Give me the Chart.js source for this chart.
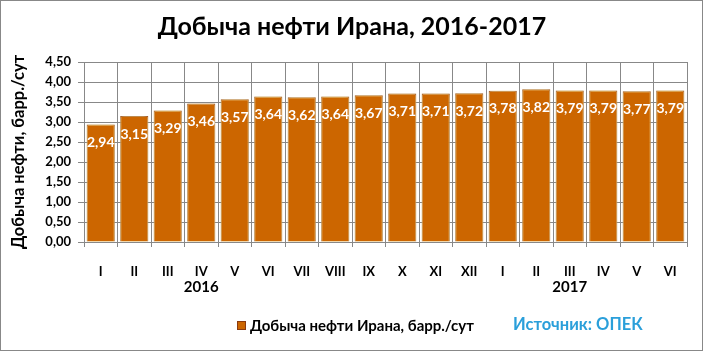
<!DOCTYPE html>
<html><head><meta charset="utf-8">
<script src="https://cdn.jsdelivr.net/npm/chart.js@4.4.1/dist/chart.umd.min.js"></script>
<style>html,body{margin:0;padding:0;background:#fff}#wrap{width:703px;height:351px;position:relative}</style>
</head><body><div id="wrap"><canvas id="c" width="703" height="351"></canvas></div>
<script>
const months = ["I","II","III","IV","V","VI","VII","VIII","IX","X","XI","XII","I","II","III","IV","V","VI"];
const production = [2.94,3.15,3.29,3.46,3.57,3.64,3.62,3.64,3.67,3.71,3.71,3.72,3.78,3.82,3.79,3.79,3.77,3.79];
const years = ["2016","2017"];
const yearAt = [3,14];
const titleText = "Добыча нефти Ирана, 2016-2017";
const seriesName = "Добыча нефти Ирана, барр./сут";
const yTitle = "Добыча нефти, барр./сут";
const sourceText = "Источник: ОПЕК";
const FONT = "Lato, 'Open Sans', sans-serif";
const fmt = v => v.toFixed(2).replace('.', ',');

const deco = {
  id: 'deco',
  beforeDatasetsDraw(chart){
    const ctx = chart.ctx; ctx.save();
    ctx.shadowColor = 'rgba(255,255,170,1)'; ctx.shadowBlur = 4;
  },
  afterDatasetsDraw(chart){
    const ctx = chart.ctx; ctx.restore();
    ctx.save();
    const meta = chart.getDatasetMeta(0);
    ctx.fillStyle = '#fff'; ctx.font = 'bold 14px ' + FONT;
    ctx.textAlign = 'center'; ctx.textBaseline = 'middle';
    meta.data.forEach((bar, i) => {
      ctx.fillText(fmt(production[i]), bar.x, bar.y + 18);
    });
    ctx.restore();
  },
  afterDraw(chart){
    const ctx = chart.ctx; ctx.save();
    const xs = chart.scales.x;
    ctx.fillStyle = '#000'; ctx.font = 'bold 25px ' + FONT;
    ctx.textAlign = 'center'; ctx.textBaseline = 'middle';
    ctx.fillText(titleText, 352, 27);
    ctx.font = 'bold 15px ' + FONT;
    years.forEach((y, i) => ctx.fillText(y, xs.getPixelForValue(yearAt[i]), 287));
    ctx.fillStyle = '#CC6600'; ctx.fillRect(237, 321, 9, 9);
    ctx.strokeStyle = '#8a3a10'; ctx.lineWidth = 1; ctx.strokeRect(237.5, 321.5, 8, 8);
    ctx.fillStyle = '#000'; ctx.textAlign = 'left'; ctx.font = 'bold 15px ' + FONT;
    ctx.fillText(seriesName, 250, 326);
    ctx.fillStyle = '#2A9FDA'; ctx.font = 'bold 16.5px ' + FONT;
    ctx.fillText(sourceText, 513, 325);
    ctx.strokeStyle = '#888'; ctx.lineWidth = 1;
    ctx.strokeRect(0.5, 0.5, 702, 350);
    ctx.restore();
  }
};

new Chart(document.getElementById('c'), {
  type: 'bar',
  data: { labels: months, datasets: [{
    label: seriesName, data: production,
    backgroundColor: '#CC6600', borderColor: '#8e3a12', borderWidth: 1,
    barPercentage: 0.84, categoryPercentage: 1.0
  }]},
  options: {
    responsive: false, animation: false,
    layout: { padding: { top: 62, left: 0, right: 16, bottom: 69 } },
    plugins: { legend: { display: false }, tooltip: { enabled: false }, title: { display: false } },
    scales: {
      x: {
        afterFit(s){ s.height = 40; },
        grid: { display: true, offset: true, color: '#888', tickLength: 5, drawOnChartArea: true },
        border: { color: '#888' },
        ticks: { color: '#000', font: { family: FONT, weight: 'bold', size: 13 }, padding: 17, maxRotation: 0, autoSkip: false }
      },
      y: {
        min: 0, max: 4.5,
        afterFit(s){ s.width = 84; },
        grid: { color: '#888', tickLength: 6 },
        border: { color: '#888' },
        ticks: { stepSize: 0.5, color: '#000', font: { family: FONT, weight: 'bold', size: 13 }, padding: 7, callback: v => fmt(v) },
        title: { display: true, text: yTitle, color: '#000', font: { family: FONT, weight: 'bold', size: 16.5 }, padding: { top: 9, bottom: 0 } }
      }
    }
  },
  plugins: [deco]
});
</script></body></html>
